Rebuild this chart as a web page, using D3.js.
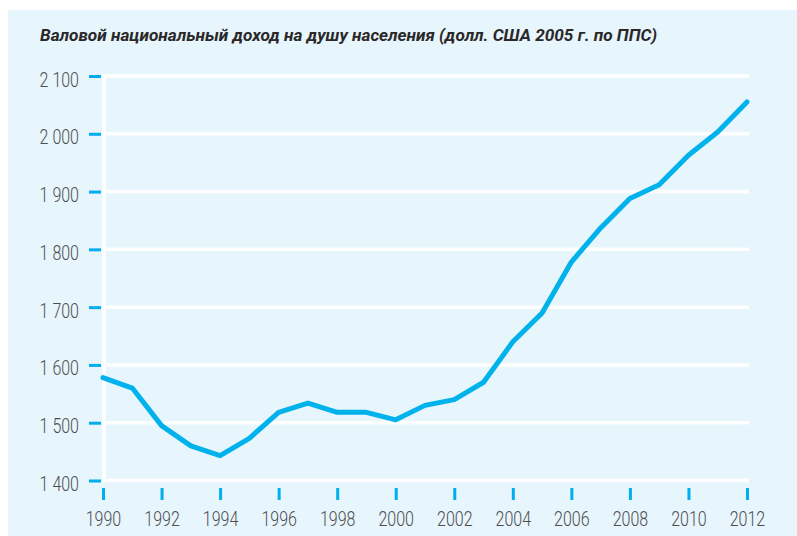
<!DOCTYPE html>
<html>
<head>
<meta charset="utf-8">
<script src="https://cdn.jsdelivr.net/npm/d3@7"></script>
<style>
  body { margin: 0; background: #fff; }
  .lbl { font-family: "Roboto", "Liberation Sans", sans-serif; font-size: 20px; font-weight: 300; fill: #4d4d4f; }
</style>
</head>
<body>
<div id="chart"></div>
<script>
// data
const years = d3.range(1990, 2013);
const gni = [1578, 1560, 1495, 1460, 1443, 1473, 1518, 1534, 1518, 1518, 1505,
             1530, 1540, 1570, 1640, 1690, 1778, 1837, 1888, 1912, 1963, 2003, 2055];
const yTicks = [1400, 1500, 1600, 1700, 1800, 1900, 2000, 2100];
const xTicks = d3.range(1990, 2013, 2);
const title = "Валовой национальный доход на душу населения (долл. США 2005 г. по ППС)";

const W = 797, H = 536;
const squeeze = 0.8; // condensed look, no narrow font installed

const svg = d3.select("#chart").append("svg")
    .attr("width", W)
    .attr("height", H);

// panel background
svg.append("rect")
    .attr("x", 8).attr("y", 10)
    .attr("width", W - 8).attr("height", H - 10)
    .attr("fill", "#e7f5fc");

const x = d3.scaleLinear().domain([1990, 2012]).range([103, 747]);
const y = d3.scaleLinear().domain([1400, 2100]).range([480.5, 76]);

// gridlines
svg.append("g").selectAll("line")
    .data(yTicks)
    .join("line")
    .attr("x1", 103).attr("x2", 749)
    .attr("y1", d => y(d)).attr("y2", d => y(d))
    .attr("stroke", "#fff")
    .attr("stroke-width", 3.5);

// white vertical axis line
svg.append("line")
    .attr("x1", 104).attr("x2", 104)
    .attr("y1", y(2100) - 2).attr("y2", y(1400) + 2)
    .attr("stroke", "#fff")
    .attr("stroke-width", 3.5);

// y axis
const yAxis = svg.append("g")
    .attr("transform", "translate(101,0)")
    .call(d3.axisLeft(y).tickValues(yTicks).tickSize(12).tickPadding(10)
        .tickFormat(d => d3.format(",")(d).replace(",", " ")));
yAxis.select(".domain").remove();
yAxis.selectAll(".tick line").attr("stroke", "#00aeef").attr("stroke-width", 3);
yAxis.selectAll(".tick text")
    .attr("class", "lbl")
    .attr("dy", "0.5em")
    .attr("x", 0)
    .attr("transform", `translate(-22,0) scale(${squeeze},1)`);

// x axis
const xAxis = svg.append("g")
    .attr("transform", "translate(0,488)")
    .call(d3.axisBottom(x).tickValues(xTicks).tickSize(12).tickPadding(12).tickFormat(d3.format("d")));
xAxis.select(".domain").remove();
xAxis.selectAll(".tick line").attr("stroke", "#00aeef").attr("stroke-width", 3);
xAxis.selectAll(".tick text")
    .attr("class", "lbl")
    .attr("transform", `scale(${squeeze},1)`);

// line
svg.append("path")
    .datum(years.map((yr, i) => [yr, gni[i]]))
    .attr("fill", "none")
    .attr("stroke", "#00b2ec")
    .attr("stroke-width", 5)
    .attr("stroke-linejoin", "round")
    .attr("stroke-linecap", "round")
    .attr("d", d3.line().x(d => x(d[0])).y(d => y(d[1])));

// title
svg.append("text")
    .attr("x", 40).attr("y", 41)
    .attr("font-family", "Roboto, 'Liberation Sans', sans-serif")
    .attr("font-size", 17)
    .attr("font-weight", "bold")
    .attr("font-style", "italic")
    .attr("fill", "#2a2829")
    .attr("textLength", 617)
    .attr("lengthAdjust", "spacingAndGlyphs")
    .text(title);
</script>
</body>
</html>
